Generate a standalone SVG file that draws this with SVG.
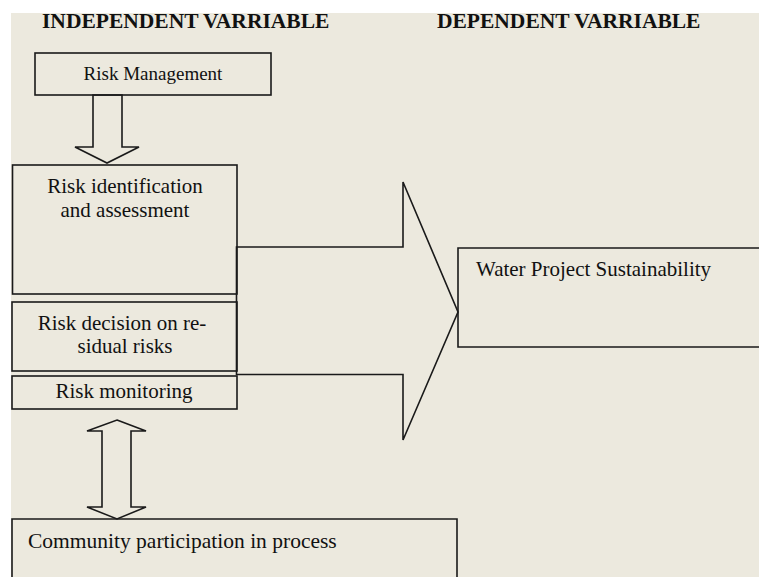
<svg xmlns="http://www.w3.org/2000/svg" width="759" height="577" viewBox="0 0 759 577">
<style>
.bx{fill:none;stroke:#1a1a1a;stroke-width:1.6}
.ar{fill:none;stroke:#1a1a1a;stroke-width:1.6;stroke-linejoin:miter}
.t{font-family:"Liberation Serif","Times New Roman",serif;fill:#111}
.h{font-family:"Liberation Serif","Times New Roman",serif;font-weight:bold;font-size:21.5px;fill:#111}
</style>
<rect x="0" y="0" width="759" height="577" fill="#ffffff"/>
<rect x="11" y="13" width="748" height="564" fill="#ECE9DE"/>
<text class="h" x="42" y="27.5">INDEPENDENT VARRIABLE</text>
<text class="h" x="437" y="27.5">DEPENDENT VARRIABLE</text>
<g id="risk-management">
<rect class="bx" x="35" y="53" width="236" height="42"/>
<text class="t" x="153" y="80" font-size="19" text-anchor="middle">Risk Management</text>
</g>
<g id="risk-identification">
<rect class="bx" x="12.5" y="165" width="224.5" height="129"/>
<text class="t" x="125" y="193" font-size="21" text-anchor="middle">Risk identification</text>
<text class="t" x="125" y="217" font-size="21" text-anchor="middle">and assessment</text>
</g>
<g id="risk-decision">
<rect class="bx" x="12" y="302" width="225" height="69"/>
<text class="t" x="122" y="330" font-size="21" text-anchor="middle">Risk decision on re-</text>
<text class="t" x="125" y="353" font-size="21" text-anchor="middle">sidual risks</text>
</g>
<g id="risk-monitoring">
<rect class="bx" x="12" y="376" width="225" height="33"/>
<text class="t" x="124" y="398" font-size="21" text-anchor="middle">Risk monitoring</text>
</g>
<g id="water-project">
<path class="bx" d="M760 248 H458 V347 H760"/>
<text class="t" x="476" y="276" font-size="21">Water Project Sustainability</text>
</g>
<g id="community">
<path class="bx" d="M12 578 V519 H457 V578"/>
<text class="t" x="28" y="548" font-size="21.5">Community participation in process</text>
</g>
<g id="connectors">
<polygon class="ar" points="93,95 122,95 122,147 139,147 107,163 75,147 93,147"/>
<polygon class="ar" points="236.5,247 403,247 403,182 458,312 403,440 403,374.5 236.5,374.5"/>
<polygon class="ar" points="117,420 146,431 131,431 131,507 146,507 117,519 87,507 102,507 102,431 87,431"/>
</g>
</svg>
